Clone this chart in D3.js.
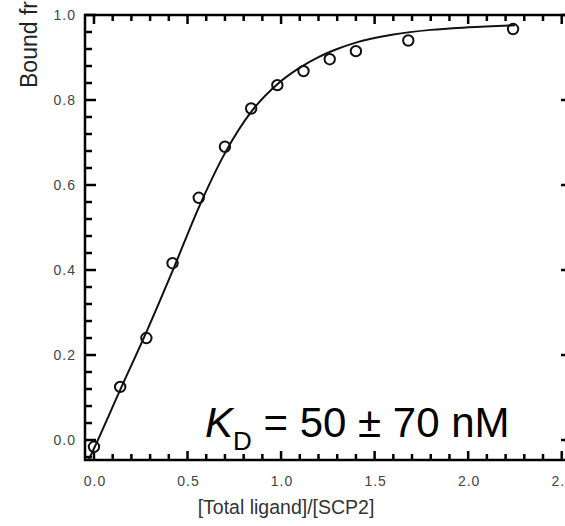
<!DOCTYPE html>
<html>
<head>
<meta charset="utf-8">
<script src="https://cdn.jsdelivr.net/npm/d3@7"></script>
<style>
  body { margin: 0; background: #fff; }
  svg { display: block; font-family: "Liberation Sans", Arial, sans-serif; }
</style>
</head>
<body>
<div class="plot-container"></div>
<script>
// measured points: total ligand / SCP2 ratio vs bound fraction
const ratio = [0.0, 0.14, 0.28, 0.42, 0.56, 0.70, 0.84, 0.98, 1.12, 1.26, 1.40, 1.68, 2.24];
const bound = [-0.016, 0.125, 0.24, 0.416, 0.57, 0.69, 0.78, 0.835, 0.868, 0.896, 0.915, 0.94, 0.967];

// fitted curve
const fitX = [-0.045, 0, 0.14, 0.28, 0.42, 0.56, 0.70, 0.84, 0.98, 1.10, 1.20, 1.30, 1.40, 1.60, 1.80, 2.00, 2.25];
const fitY = [-0.062, -0.02, 0.118, 0.254, 0.398, 0.547, 0.675, 0.772, 0.837, 0.876, 0.901, 0.92, 0.935, 0.954, 0.965, 0.971, 0.976];

const xMajor = [0, 0.5, 1.0, 1.5, 2.0, 2.5];
const yMajor = [0, 0.2, 0.4, 0.6, 0.8, 1.0];
const xMinor = d3.range(0, 2.56, 0.1).filter(v => !xMajor.some(m => Math.abs(m - v) < 1e-6));
const yMinor = d3.range(-0.04, 1.0, 0.04).filter(v => !yMajor.some(m => Math.abs(m - v) < 1e-6));

const W = 565, H = 526;
const plot = { left: 85, top: 15, bottom: 460, right: 572 };

const svg = d3.select("div.plot-container")
  .append("svg")
  .attr("width", W)
  .attr("height", H);

const x = d3.scaleLinear().domain([-0.048, 2.555]).range([plot.left, plot.right]);
const y = d3.scaleLinear().domain([-0.047, 1.0]).range([plot.bottom, plot.top]);

svg.append("clipPath").attr("id", "clip")
  .append("rect")
  .attr("x", plot.left).attr("y", plot.top)
  .attr("width", plot.right - plot.left).attr("height", plot.bottom - plot.top);

// *************************************
// AXES (ticks point inward on all sides)
// *************************************
svg.append("rect")
  .attr("x", plot.left).attr("y", plot.top)
  .attr("width", plot.right - plot.left).attr("height", plot.bottom - plot.top)
  .attr("fill", "none")
  .attr("stroke", "#000")
  .attr("stroke-width", 2.5);

let ticks = svg.append("g");

let tickPath = (pts) => {
  ticks.append("path")
    .attr("d", d3.line()(pts))
    .attr("fill", "none")
    .attr("stroke", "#000")
    .attr("stroke-width", 2.5);
};

xMajor.concat(xMinor).forEach(v => {
  const len = xMajor.includes(v) ? 9 : 6;
  tickPath([[x(v), plot.bottom], [x(v), plot.bottom - len]]);
  tickPath([[x(v), plot.top], [x(v), plot.top + len]]);
});
yMajor.concat(yMinor).forEach(v => {
  const len = yMajor.includes(v) ? 11 : 7;
  tickPath([[plot.left, y(v)], [plot.left + len, y(v)]]);
  tickPath([[plot.right, y(v)], [plot.right - len, y(v)]]);
});

svg.append("g")
  .selectAll("text")
  .data(xMajor)
  .join("text")
  .attr("x", d => x(d) + 1)
  .attr("y", 486)
  .attr("text-anchor", "middle")
  .attr("font-size", 14)
  .attr("letter-spacing", 1)
  .attr("fill", "#444")
  .text(d => d.toFixed(1));

svg.append("g")
  .selectAll("text")
  .data(yMajor)
  .join("text")
  .attr("x", 76)
  .attr("y", d => y(d) + 5)
  .attr("text-anchor", "end")
  .attr("font-size", 14)
  .attr("letter-spacing", 1)
  .attr("fill", "#444")
  .text(d => d.toFixed(1));

// axis titles
svg.append("text")
  .attr("transform", "translate(37, 88) rotate(-90)")
  .attr("font-size", 23)
  .attr("fill", "#222")
  .text("Bound fraction");

svg.append("text")
  .attr("x", 286)
  .attr("y", 514)
  .attr("text-anchor", "middle")
  .attr("font-size", 19.5)
  .attr("fill", "#333")
  .text("[Total ligand]/[SCP2]");

// *************************************
// FIT LINE AND DATA POINTS
// *************************************
const fitData = fitX.map((v, i) => [v, fitY[i]]);
const line = d3.line()
  .x(d => x(d[0]))
  .y(d => y(d[1]))
  .curve(d3.curveMonotoneX);

svg.append("path")
  .datum(fitData)
  .attr("clip-path", "url(#clip)")
  .attr("d", line)
  .attr("fill", "none")
  .attr("stroke", "#111")
  .attr("stroke-width", 2);

svg.append("g")
  .selectAll("circle")
  .data(ratio.map((v, i) => [v, bound[i]]))
  .join("circle")
  .attr("cx", d => x(d[0]))
  .attr("cy", d => y(d[1]))
  .attr("r", 5.2)
  .attr("fill", "none")
  .attr("stroke", "#111")
  .attr("stroke-width", 2);

// dissociation constant annotation
const kd = svg.append("text")
  .attr("x", 205)
  .attr("y", 437)
  .attr("font-size", 42)
  .attr("fill", "#000");
kd.append("tspan").attr("font-style", "italic").text("K");
kd.append("tspan").attr("font-size", 26).attr("dy", 13).text("D");
kd.append("tspan").attr("dy", -13).text(" = 50 \u00b1 70 nM");
</script>
</body>
</html>
